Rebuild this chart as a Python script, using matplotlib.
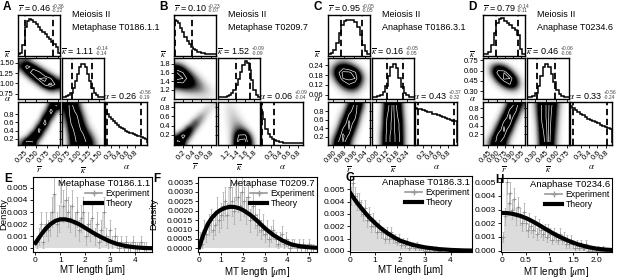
import numpy as np
import matplotlib
matplotlib.use("Agg")
import matplotlib.pyplot as plt
from matplotlib.ticker import FormatStrFormatter
from matplotlib.lines import Line2D

plt.rcParams['font.family'] = ['Liberation Sans', 'DejaVu Sans']
plt.rcParams['mathtext.fontset'] = 'stix'

# ---------------- corner plots: 1D histograms (height as fraction of box) ----------------
a_r_hist = [0.02, 0.03, 0.25, 0.70, 0.85, 0.90, 0.88, 0.82, 0.76, 0.69, 0.63, 0.57, 0.51, 0.45, 0.38, 0.32, 0.26, 0.20, 0.03]
a_k_hist = [0.0, 0.01, 0.04, 0.07, 0.12, 0.25, 0.42, 0.60, 0.76, 0.85, 0.84, 0.76, 0.60, 0.42, 0.25, 0.12, 0.06, 0.02, 0.01, 0.0]
a_a_hist = [0.78, 0.71, 0.64, 0.58, 0.53, 0.48, 0.44, 0.40, 0.37, 0.34, 0.31, 0.28, 0.26, 0.24, 0.22, 0.20, 0.18, 0.17, 0.15, 0.14, 0.10]

b_r_hist = [0.87, 0.86, 0.80, 0.68, 0.56, 0.44, 0.34, 0.26, 0.19, 0.14, 0.10, 0.07, 0.05, 0.04, 0.03, 0.02, 0.02, 0.01, 0.01, 0.01]
b_k_hist = [0.0, 0.0, 0.01, 0.02, 0.04, 0.07, 0.12, 0.20, 0.32, 0.48, 0.65, 0.82, 0.92, 0.88, 0.70, 0.45, 0.20, 0.06, 0.01]
b_a_hist = [0.77, 0.60, 0.35, 0.22, 0.15, 0.10, 0.07, 0.05, 0.035, 0.025, 0.02, 0.015, 0.01, 0.01, 0.01, 0.005, 0.005, 0.0, 0.0]

c_r_hist = [0.02, 0.04, 0.10, 0.30, 0.55, 0.75, 0.85, 0.88, 0.88, 0.87, 0.82, 0.70, 0.50, 0.25, 0.08, 0.02]
c_k_hist = [0.0, 0.01, 0.03, 0.07, 0.15, 0.30, 0.55, 0.78, 0.86, 0.75, 0.50, 0.27, 0.12, 0.05, 0.01, 0.0]
c_a_hist = [0.86, 0.84, 0.83, 0.80, 0.79, 0.76, 0.75, 0.72, 0.71, 0.68, 0.66, 0.64, 0.62, 0.60, 0.57, 0.55, 0.53]

d_r_hist = [0.01, 0.02, 0.06, 0.25, 0.55, 0.80, 0.90, 0.92, 0.86, 0.80, 0.74, 0.68, 0.62, 0.50, 0.15, 0.02]
d_k_hist = [0.0, 0.01, 0.04, 0.12, 0.30, 0.55, 0.78, 0.86, 0.78, 0.60, 0.38, 0.20, 0.09, 0.03, 0.01, 0.0]
d_a_hist = [0.90, 0.85, 0.80, 0.76, 0.72, 0.68, 0.64, 0.60, 0.57, 0.54, 0.51, 0.48, 0.45, 0.42, 0.40, 0.37, 0.35]

# dashed credible-interval lines
a_q = [(0.26, 0.89), (0.86, 1.34), (0.09, 0.94)]
b_q = [(0.02, 0.39), (1.39, 1.71), (-0.01, 0.27)]
c_q = [(0.86, 1.02), (0.126, 0.217), (0.07, 0.95)]
d_q = [(0.59, 0.99), (0.33, 0.59), (0.01, 0.83)]

# summary values (median, +, -)
a_sum = [("0.46", "+0.36", "-0.22"), ("1.11", "+0.14", "-0.14"), ("0.26", "+0.56", "-0.19")]
b_sum = [("0.10", "+0.23", "-0.07"), ("1.52", "+0.09", "-0.09"), ("0.06", "+0.09", "-0.04")]
c_sum = [("0.95", "+0.05", "-0.05"), ("0.16", "+0.05", "-0.05"), ("0.43", "+0.37", "-0.32")]
d_sum = [("0.79", "+0.14", "-0.11"), ("0.46", "+0.06", "-0.06"), ("0.33", "+0.56", "-0.24")]

# ---------------- corner plots: 2D posterior densities (rows top -> bottom) ----------------
a_rk = [[0.3, 0.4, 0.1, 0, 0, 0, 0],
        [0.5, 0.9, 0.7, 0.3, 0.05, 0, 0],
        [0.1, 0.6, 0.95, 0.9, 0.5, 0.15, 0],
        [0, 0.1, 0.5, 0.95, 1.0, 0.8, 0.3],
        [0, 0, 0.05, 0.35, 0.9, 1.0, 0.7],
        [0, 0, 0, 0.02, 0.15, 0.4, 0.3],
        [0, 0, 0, 0, 0, 0.02, 0.02]]
a_ra = [[0, 0, 0, 0, 0, 0.5, 0.9],
        [0, 0, 0, 0, 0.2, 0.95, 0.3],
        [0, 0, 0, 0, 0.7, 0.6, 0],
        [0, 0, 0, 0.3, 0.95, 0.1, 0],
        [0, 0, 0.1, 0.9, 0.4, 0, 0],
        [0, 0.1, 0.8, 0.7, 0.05, 0, 0],
        [0.3, 0.9, 0.8, 0.1, 0, 0, 0]]
a_ka = [[0.6, 0.9, 0.5, 0.1, 0, 0, 0],
        [0.4, 0.95, 0.7, 0.2, 0, 0, 0],
        [0.3, 0.9, 0.85, 0.35, 0.05, 0, 0],
        [0.2, 0.8, 0.95, 0.5, 0.1, 0, 0],
        [0.1, 0.7, 0.95, 0.7, 0.25, 0.05, 0],
        [0.05, 0.6, 0.9, 0.85, 0.5, 0.15, 0],
        [0.05, 0.5, 0.85, 0.9, 0.7, 0.3, 0.05]]

b_rk = [[0.1, 0.05, 0, 0, 0, 0, 0],
        [0.6, 0.4, 0.1, 0.02, 0, 0, 0],
        [0.95, 0.8, 0.45, 0.15, 0.03, 0, 0],
        [1.0, 0.95, 0.7, 0.4, 0.15, 0.03, 0],
        [0.7, 0.75, 0.65, 0.5, 0.3, 0.12, 0.03],
        [0.2, 0.3, 0.35, 0.35, 0.3, 0.2, 0.08],
        [0.02, 0.05, 0.08, 0.1, 0.12, 0.12, 0.08]]
b_ra = [[0, 0, 0, 0, 0, 0.05, 0.15],
        [0, 0, 0, 0, 0.05, 0.25, 0.05],
        [0, 0, 0, 0.05, 0.4, 0.1, 0],
        [0, 0, 0.05, 0.6, 0.2, 0, 0],
        [0, 0.1, 0.8, 0.3, 0, 0, 0],
        [0.3, 0.95, 0.5, 0.02, 0, 0, 0],
        [1.0, 0.6, 0.05, 0, 0, 0, 0]]
b_ka = [[0, 0.1, 0.08, 0.02, 0, 0, 0],
        [0, 0.12, 0.15, 0.05, 0, 0, 0],
        [0, 0.1, 0.2, 0.12, 0.02, 0, 0],
        [0, 0.08, 0.22, 0.25, 0.08, 0, 0],
        [0, 0.05, 0.25, 0.45, 0.3, 0.05, 0],
        [0, 0.03, 0.3, 0.85, 0.9, 0.3, 0],
        [0, 0.02, 0.3, 1.0, 1.0, 0.5, 0.02]]

c_rk = [[0.05, 0.15, 0.2, 0.15, 0.05, 0.01, 0],
        [0.15, 0.5, 0.7, 0.6, 0.35, 0.1, 0.01],
        [0.2, 0.7, 1.0, 1.0, 0.85, 0.35, 0.05],
        [0.1, 0.5, 0.95, 1.0, 0.95, 0.5, 0.08],
        [0.03, 0.2, 0.55, 0.8, 0.7, 0.35, 0.05],
        [0, 0.05, 0.2, 0.35, 0.35, 0.15, 0.02],
        [0, 0.01, 0.04, 0.08, 0.08, 0.04, 0]]
c_ra = [[0, 0, 0.05, 0.4, 0.9, 0.6, 0.05],
        [0, 0.02, 0.15, 0.7, 0.95, 0.4, 0.02],
        [0, 0.05, 0.35, 0.9, 0.85, 0.2, 0],
        [0, 0.1, 0.6, 1.0, 0.65, 0.1, 0],
        [0.02, 0.25, 0.85, 0.95, 0.4, 0.03, 0],
        [0.05, 0.5, 1.0, 0.75, 0.2, 0.01, 0],
        [0.15, 0.75, 0.95, 0.5, 0.08, 0, 0]]
c_ka = [[0, 0.1, 0.7, 1.0, 0.65, 0.1, 0],
        [0, 0.12, 0.75, 1.0, 0.7, 0.12, 0],
        [0, 0.15, 0.8, 1.0, 0.75, 0.15, 0],
        [0, 0.15, 0.85, 1.0, 0.8, 0.18, 0],
        [0.01, 0.2, 0.85, 1.0, 0.8, 0.2, 0.01],
        [0.01, 0.25, 0.9, 1.0, 0.85, 0.2, 0.01],
        [0.01, 0.25, 0.9, 1.0, 0.85, 0.2, 0.01]]

d_rk = [[0.02, 0.05, 0.05, 0.02, 0, 0, 0],
        [0.05, 0.35, 0.6, 0.45, 0.15, 0.02, 0],
        [0.03, 0.4, 0.9, 0.95, 0.6, 0.15, 0.01],
        [0.01, 0.15, 0.6, 1.0, 0.95, 0.5, 0.05],
        [0, 0.03, 0.2, 0.55, 0.8, 0.6, 0.1],
        [0, 0, 0.03, 0.12, 0.25, 0.25, 0.05],
        [0, 0, 0, 0.01, 0.03, 0.03, 0.01]]
d_ra = [[0, 0, 0, 0.1, 0.6, 0.95, 0.4],
        [0, 0, 0.02, 0.3, 0.9, 0.8, 0.2],
        [0, 0, 0.1, 0.6, 1.0, 0.55, 0.05],
        [0, 0.03, 0.3, 0.9, 0.85, 0.25, 0.01],
        [0, 0.1, 0.6, 1.0, 0.6, 0.08, 0],
        [0.03, 0.3, 0.9, 0.85, 0.3, 0.02, 0],
        [0.1, 0.55, 0.95, 0.6, 0.12, 0, 0]]
d_ka = [[0.02, 0.3, 0.85, 1.0, 0.7, 0.2, 0.02],
        [0.02, 0.25, 0.85, 1.0, 0.65, 0.15, 0.01],
        [0.01, 0.2, 0.85, 1.0, 0.6, 0.12, 0.01],
        [0, 0.15, 0.8, 1.0, 0.55, 0.1, 0],
        [0, 0.12, 0.75, 1.0, 0.5, 0.08, 0],
        [0, 0.1, 0.7, 1.0, 0.45, 0.06, 0],
        [0, 0.08, 0.65, 1.0, 0.4, 0.05, 0]]

# axis ranges and ticks (r, kappa, alpha)
a_lims = [(0.10, 1.05), (0.62, 1.62), (0.05, 1.10)]
b_lims = [(0.00, 0.92), (0.98, 1.94), (-0.03, 0.92)]
c_lims = [(0.76, 1.08), (0.035, 0.283), (0.00, 1.02)]
d_lims = [(0.35, 1.12), (0.19, 0.78), (-0.05, 0.95)]
a_ticks = [[0.25, 0.50, 0.75, 1.00], [0.75, 1.00, 1.25, 1.50], [0.2, 0.4, 0.6, 0.8]]
b_ticks = [[0.2, 0.4, 0.6, 0.8], [1.2, 1.4, 1.6, 1.8], [0.2, 0.4, 0.6, 0.8]]
c_ticks = [[0.80, 0.88, 0.96, 1.04], [0.06, 0.12, 0.18, 0.24], [0.2, 0.4, 0.6, 0.8]]
d_ticks = [[0.45, 0.60, 0.75, 0.90, 1.05], [0.30, 0.45, 0.60, 0.75], [0.2, 0.4, 0.6, 0.8]]
a_fmt = ['%.2f', '%.2f', '%.1f']
b_fmt = ['%.1f', '%.1f', '%.1f']
c_fmt = ['%.2f', '%.2f', '%.1f']
d_fmt = ['%.2f', '%.2f', '%.1f']

titles = ["Meiosis II\nMetaphase T0186.1.1", "Meiosis II\nMetaphase T0209.7",
          "Meiosis II\nAnaphase T0186.3.1", "Meiosis II\nAnaphase T0234.6"]

# ---------------- bottom: MT length distributions (density x 1e-3) ----------------
e_start, e_width = 0.045, 0.09
e_exp = [0.5, 1.0, 2.0, 0.5, 2.0, 1.5, 2.0, 3.0, 4.5, 2.0, 2.5, 5.5, 3.5, 4.0, 3.0, 2.5, 3.5, 2.0, 3.0, 1.5,
         2.5, 3.0, 1.0, 2.0, 1.5, 2.5, 1.0, 2.0, 0.5, 1.5, 3.0, 1.0, 0.5, 1.5, 0.5, 1.0, 0.5, 0.0, 0.5, 0.0,
         0.5, 0.0, 0.0, 0.5, 0.0, 0.0, 0.0, 0.5, 0.0, 0.0]
e_tx = [0, 0.2, 0.4, 0.6, 0.8, 1.0, 1.2, 1.4, 1.6, 1.8, 2.0, 2.2, 2.4, 2.6, 2.8, 3.0, 3.3, 3.6, 4.0, 4.4, 4.8]
e_ty = [0.45, 1.05, 1.6, 2.0, 2.27, 2.4, 2.4, 2.3, 2.15, 1.95, 1.7, 1.45, 1.2, 0.98, 0.77, 0.58, 0.36, 0.21, 0.09, 0.03, 0.01]

f_start, f_width = 0.05, 0.095
f_exp = [0.5, 0.25, 1.0, 0.75, 1.25, 1.5, 1.0, 1.25, 2.0, 1.5, 1.75, 2.25, 2.5, 1.75, 3.25, 2.5, 2.0, 3.5, 2.75, 2.25,
         3.0, 2.5, 2.0, 2.75, 1.5, 2.25, 1.75, 1.25, 1.5, 1.0, 1.25, 0.75, 1.0, 0.5, 0.75, 1.0, 0.5, 0.25, 0.5, 0.75,
         0.25, 0.5, 0.25, 0.0, 0.25, 0.25, 0.0, 0.25, 0.0, 0.25, 0.0, 0.0, 0.25, 0.0, 0.0]
f_tx = [0, 0.2, 0.4, 0.6, 0.8, 1.0, 1.2, 1.4, 1.6, 1.8, 2.0, 2.3, 2.6, 3.0, 3.4, 3.8, 4.2, 4.6, 5.0, 5.4]
f_ty = [0.05, 0.75, 1.3, 1.65, 1.9, 2.06, 2.16, 2.21, 2.2, 2.14, 2.03, 1.8, 1.5, 1.05, 0.68, 0.4, 0.2, 0.1, 0.05, 0.02]

g_start, g_width = 0.04, 0.08
g_exp = [4.5, 5.5, 4.5, 4.0, 4.0, 3.5, 3.0, 3.5, 2.5, 3.0, 2.0, 2.5, 2.0, 1.5, 2.0, 1.5, 1.5, 1.0, 1.5, 1.0,
         1.5, 1.0, 1.0, 0.75, 1.0, 0.5, 0.75, 0.5, 0.75, 0.25, 0.5, 0.5, 0.25, 0.5, 0.25, 0.25, 0.25, 0.0, 0.25, 0.0,
         0.25, 0.0, 0.25, 0.0, 0.0]
g_tx = [0, 0.25, 0.5, 0.75, 1.0, 1.25, 1.5, 1.75, 2.0, 2.5, 3.0, 3.5, 4.0, 4.5, 5.0]
g_ty = [4.75, 4.0, 3.35, 2.75, 2.25, 1.8, 1.42, 1.1, 0.82, 0.48, 0.27, 0.14, 0.07, 0.03, 0.01]

h_start, h_width = 0.02, 0.04
h_exp = [1.0, 2.5, 5.0, 3.5, 4.2, 3.0, 3.8, 2.5, 3.2, 2.5, 2.0, 2.8, 2.0, 1.5, 2.2, 1.8, 1.5, 2.0, 1.2, 1.8,
         1.5, 1.2, 1.5, 1.0, 1.5, 1.2, 0.8, 1.2, 1.0, 0.8, 1.2, 0.8, 1.0, 0.5, 0.8, 0.5, 0.8, 0.5, 0.2, 0.5,
         0.2, 0.5, 0.2, 0.2, 0.5, 0.0, 0.2, 0.0, 0.2, 0.0, 0.2, 0.0, 0.0, 0.2, 0.0]
h_tx = [0, 0.1, 0.2, 0.3, 0.4, 0.5, 0.6, 0.7, 0.8, 0.9, 1.0, 1.1, 1.2, 1.3, 1.4, 1.5, 1.6, 1.8, 2.0, 2.2, 2.4]
h_ty = [2.75, 2.74, 2.7, 2.62, 2.52, 2.38, 2.22, 2.03, 1.83, 1.62, 1.42, 1.22, 1.04, 0.87, 0.72, 0.58, 0.46, 0.27, 0.14, 0.07, 0.03]

# ------------------------------------------------------------------
W, H = 617, 278
fig = plt.figure(figsize=(W / 100, H / 100), dpi=100)


def add_box(x0, y0, w, h):
    return fig.add_axes([x0 / W, 1 - (y0 + h) / H, w / W, h / H])


def summary(ax, name, med, up, dn, hpx):
    # main "x = value" text, then tiny +/- errors stacked on its right
    ax.text(0.78, 1 + 3 / hpx, name + ' = ' + med, transform=ax.transAxes,
            ha='right', va='baseline', fontsize=6.5)
    ax.text(0.81, 1 + 9 / hpx, up, transform=ax.transAxes, ha='left', va='center',
            fontsize=3.6, color='#444444')
    ax.text(0.81, 1 + 4.5 / hpx, dn, transform=ax.transAxes, ha='left', va='center',
            fontsize=3.6, color='#444444')


panels = [
    dict(h=[a_r_hist, a_k_hist, a_a_hist], q=a_q, s=a_sum, g=[a_rk, a_ra, a_ka], lims=a_lims, ticks=a_ticks, fmt=a_fmt),
    dict(h=[b_r_hist, b_k_hist, b_a_hist], q=b_q, s=b_sum, g=[b_rk, b_ra, b_ka], lims=b_lims, ticks=b_ticks, fmt=b_fmt),
    dict(h=[c_r_hist, c_k_hist, c_a_hist], q=c_q, s=c_sum, g=[c_rk, c_ra, c_ka], lims=c_lims, ticks=c_ticks, fmt=c_fmt),
    dict(h=[d_r_hist, d_k_hist, d_a_hist], q=d_q, s=d_sum, g=[d_rk, d_ra, d_ka], lims=d_lims, ticks=d_ticks, fmt=d_fmt),
]
names = [r'$\overline{r}$', r'$\overline{\kappa}$', r'$\alpha$']
panel_x = [18, 174, 328, 483]
col_dx = [0, 44, 87]
row_y = [15, 58, 102]
row_h = [41, 41, 43]
cw = 42
letters = "ABCD"

for p, (P, x0) in enumerate(zip(panels, panel_x)):
    fig.text((x0 - 15) / W, 1 - 7 / H, letters[p], fontsize=8.5, fontweight='bold', va='center')
    fig.text((x0 + 54) / W, 1 - 10 / H, titles[p], fontsize=6.5, va='top', linespacing=1.55)
    for r in range(3):
        for c in range(r + 1):
            ax = add_box(x0 + col_dx[c], row_y[r], cw, row_h[r])
            ax.set_xlim(P['lims'][c])
            for sp in ax.spines.values():
                sp.set_linewidth(1.0)
            ax.tick_params(length=2, width=0.6, labelsize=5.5, pad=1)
            if r == c:
                vals = P['h'][c]
                lo, hi = P['lims'][c]
                edges = np.linspace(lo, hi, len(vals) + 1)
                ax.stairs(vals, edges, color='k', lw=1.1, baseline=0.0)
                ax.set_ylim(-0.04, 1.0)
                for qv in P['q'][c]:
                    ax.axvline(qv, color='k', ls=(0, (3.5, 2)), lw=1.3)
                summary(ax, names[c], *P['s'][c], row_h[r])
                ax.set_yticks([])
            else:
                grid = P['g'][{(1, 0): 0, (2, 0): 1, (2, 1): 2}[(r, c)]]
                ext = (*P['lims'][c], *P['lims'][r])
                ax.imshow(grid, extent=ext, origin='upper', cmap='Greys', vmin=0.02, vmax=0.5,
                          interpolation='bicubic', aspect='auto')
                ax.contour(np.array(grid), levels=[0.8, 0.95], colors='white', linewidths=0.45,
                           extent=ext, origin='upper')
                ax.set_ylim(P['lims'][r])
            if c == 0 and r > 0:
                ax.set_yticks(P['ticks'][r])
                ax.yaxis.set_major_formatter(FormatStrFormatter(P['fmt'][r]))
                ax.text(-0.26, 1.08, names[r], transform=ax.transAxes, ha='center', va='center', fontsize=6.5)
            elif r != c:
                ax.set_yticks(P['ticks'][r])
                ax.set_yticklabels([])
            if r == 2:
                ax.set_xticks(P['ticks'][c])
                ax.xaxis.set_major_formatter(FormatStrFormatter(P['fmt'][c]))
                plt.setp(ax.get_xticklabels(), rotation=45, ha='right', rotation_mode='anchor')
                ax.set_xlabel(names[c], fontsize=6.5, labelpad=0)
            else:
                ax.set_xticks(P['ticks'][c])
                ax.set_xticklabels([])

# ---------------- bottom panels ----------------
bottom = [
    dict(box=(33, 177, 119, 75), start=e_start, w=e_width, exp=e_exp, tx=e_tx, ty=e_ty, q=0.5,
         xlim=(-0.1, 4.7), ylim=(-0.0003, 0.0059), xt=[0, 1, 2, 3, 4], yt=np.arange(0, 0.0051, 0.001),
         yf='%.3f', title='Metaphase T0186.1.1', xl='MT length [µm]', ylab=-0.205, L='E', Lx=4),
    dict(box=(198, 177, 119, 75), start=f_start, w=f_width, exp=f_exp, tx=f_tx, ty=f_ty, q=0.25,
         xlim=(-0.05, 5.35), ylim=(-0.0002, 0.0038), xt=[0, 1, 2, 3, 4, 5], yt=np.arange(0, 0.00351, 0.0005),
         yf='%.4f', title='Metaphase T0209.7', xl=r'MT length [$\mu$m]', ylab=-0.33, L='F', Lx=153),
    dict(box=(350, 176, 122, 76), start=g_start, w=g_width, exp=g_exp, tx=g_tx, ty=g_ty, q=0.12,
         xlim=(0.0, 4.85), ylim=(-0.0001, 0.0061), xt=[0, 1, 2, 3, 4], yt=np.arange(0, 0.0051, 0.001),
         yf='%.3f', title='Anaphase T0186.3.1', xl='MT length [µm]', ylab=None, L='G', Lx=345),
    dict(box=(501, 178, 111, 74), start=h_start, w=h_width, exp=h_exp, tx=h_tx, ty=h_ty, q=0.15,
         xlim=(-0.02, 2.32), ylim=(-0.0001, 0.0053), xt=[0, 0.5, 1, 1.5, 2.0], yt=np.arange(0, 0.0051, 0.001),
         yf='%.3f', title='Anaphase T0234.6', xl=r'MT length [$\mu$m]', ylab=None, L='H', Lx=495),
]

for B in bottom:
    ax = add_box(*B['box'])
    v = np.array(B['exp']) * 1e-3
    x = B['start'] + B['w'] * np.arange(len(v))
    err = np.sqrt(np.maximum(v * 1e3, B['q']) * B['q']) * 1e-3
    ax.bar(x, v, width=B['w'], color='#dcdcdc', lw=0, zorder=1)
    ax.errorbar(x, v, yerr=err, fmt='none', ecolor='#b0b0b0',
                elinewidth=0.6, capsize=1.0, capthick=0.5, zorder=2)
    ax.plot(x, v, ls='none', marker='+', ms=2.5, mew=0.6, color='#909090', zorder=2)
    ax.plot(B['tx'], np.array(B['ty']) * 1e-3, color='k', lw=3, zorder=3)
    ax.set_xlim(B['xlim'])
    ax.set_ylim(B['ylim'])
    ax.set_xticks(B['xt'])
    ax.set_xticklabels([('%g' % t) if t != 2.0 or B['L'] != 'H' else '2.0' for t in B['xt']])
    ax.set_yticks(B['yt'])
    ax.yaxis.set_major_formatter(FormatStrFormatter(B['yf']))
    ax.tick_params(length=2, width=0.6, labelsize=6, pad=1.5)
    for sp in ax.spines.values():
        sp.set_linewidth(0.8)
    ax.set_xlabel(B['xl'], fontsize=7, labelpad=0.5)
    if B['ylab'] is not None:
        ax.set_ylabel('Density', fontsize=6.8)
        ax.yaxis.set_label_coords(B['ylab'], 0.5)
    handles = [Line2D([], [], color='#9a9a9a', lw=1.2, marker='+', ms=5, mew=1.0),
               Line2D([], [], color='k', lw=3)]
    ax.legend(handles, ['Experiment', 'Theory'], loc='upper right', title=B['title'], fontsize=6.2,
              title_fontsize=6.8, frameon=False, handlelength=2.0, handletextpad=0.4, labelspacing=0.1,
              borderaxespad=0.15, borderpad=0.1, alignment='right')
    y0 = B['box'][1]
    fig.text(B['Lx'] / W, 1 - (y0 + 2) / H, B['L'], fontsize=8.5, fontweight='bold', va='center')

fig.savefig('out.png', dpi=100)
